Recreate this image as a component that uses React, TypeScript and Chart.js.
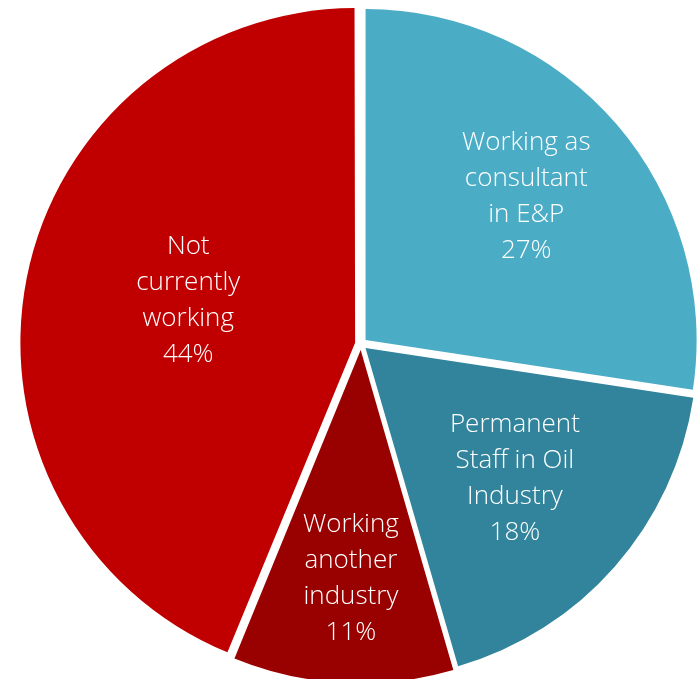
import React, { useEffect, useRef } from "react";
import { Chart, registerables } from "chart.js";

Chart.register(...registerables);

const categories: string[][] = [
  ["Working as", "consultant", "in E&P"],
  ["Permanent", "Staff in Oil", "Industry"],
  ["Working", "another", "industry"],
  ["Not", "currently", "working"],
];
const values: number[] = [27.4, 18.1, 10.7, 43.8];
const colors: string[] = ["#4BACC6", "#31849B", "#990000", "#C00000"];

const labelPlugin = {
  id: "sliceLabels",
  afterDatasetsDraw(chart: any, _args: any, opts: any) {
    const ctx = chart.ctx;
    const meta = chart.getDatasetMeta(0);
    const total = values.reduce((a, b) => a + b, 0);
    ctx.save();
    ctx.fillStyle = opts.color;
    ctx.font = opts.font;
    ctx.textAlign = "center";
    ctx.textBaseline = "middle";
    meta.data.forEach((arc: any, i: number) => {
      const shift = ((opts.angleShift[i] || 0) * Math.PI) / 180;
      const mid = (arc.startAngle + arc.endAngle) / 2;
      const off = (arc.options.offset || 0) / 4;
      const cx = arc.x + Math.cos(mid) * off;
      const cy = arc.y + Math.sin(mid) * off;
      const r = arc.outerRadius * opts.ratio[i];
      const x = cx + Math.cos(mid + shift) * r;
      const y = cy + Math.sin(mid + shift) * r;
      const lines = [...categories[i], Math.round((values[i] / total) * 100) + "%"];
      const lh = opts.lineHeight;
      const startY = y - ((lines.length - 1) * lh) / 2;
      lines.forEach((t, k) => ctx.fillText(t, x, startY + k * lh));
    });
    ctx.restore();
  },
};

export default function App() {
  const ref = useRef<HTMLCanvasElement>(null);
  useEffect(() => {
    document.body.style.margin = "0";
    const chart = new Chart(ref.current!, {
      type: "pie",
      data: {
        labels: categories,
        datasets: [
          {
            data: values,
            backgroundColor: colors,
            borderWidth: 0,
            offset: 24,
            radius: 331,
            clip: false,
          } as any,
        ],
      },
      options: {
        responsive: false,
        animation: false,
        devicePixelRatio: 1,
        layout: { padding: { left: 23, right: 0, top: 9, bottom: 0 } },
        plugins: {
          legend: { display: false },
          tooltip: { enabled: false },
          sliceLabels: {
            color: "#FFFFFF",
            font: "300 26px 'Open Sans'",
            lineHeight: 36,
            ratio: [0.65, 0.6, 0.69, 0.52],
            angleShift: [-1, 0, -0.6, 3],
          },
        } as any,
      },
      plugins: [labelPlugin],
    });
    return () => chart.destroy();
  }, []);
  return <canvas ref={ref} width={699} height={679} style={{ display: "block" }} />;
}
